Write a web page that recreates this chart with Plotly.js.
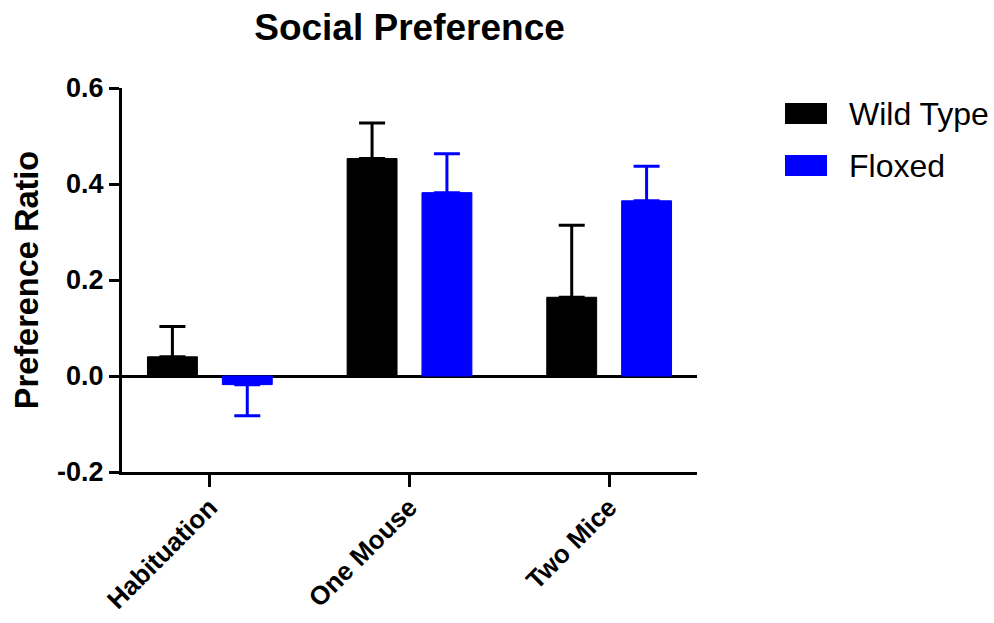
<!DOCTYPE html>
<html>
<head>
<meta charset="utf-8">
<script src="https://cdn.plot.ly/plotly-3.0.1.min.js"></script>
<style>
  html, body { margin: 0; padding: 0; background: #fff; }
  #chart { width: 994px; height: 623px; }
</style>
</head>
<body>
<div id="chart"></div>
<script>
// Social preference test: preference ratio per phase, by genotype
const categories = ["Habituation", "One Mouse", "Two Mice"];

const wildTypeMean = [0.040, 0.453, 0.164];
const wildTypeSem  = [0.063, 0.074, 0.150];

const floxedMean = [-0.018, 0.382, 0.365];
const floxedSem  = [0.065, 0.081, 0.072];

const seriesNames = ["Wild Type", "Floxed"];
const seriesColors = ["#000000", "#0000ff"];

const FONT = "Arial, 'Liberation Sans', Helvetica, sans-serif";

// error bars only on the side away from zero
function upper(means, sems) { return means.map((m, i) => (m >= 0 ? sems[i] : 0)); }
function lower(means, sems) { return means.map((m, i) => (m < 0 ? sems[i] : 0)); }

function barTrace(name, means, sems, color) {
  return {
    type: "bar",
    name: name,
    x: categories,
    y: means,
    marker: { color: color, line: { color: color, width: 1 } },
    error_y: {
      type: "data",
      symmetric: false,
      array: upper(means, sems),
      arrayminus: lower(means, sems),
      color: color,
      thickness: 3,
      width: 13
    },
    showlegend: false,
    hoverinfo: "x+y"
  };
}

const data = [
  barTrace(seriesNames[0], wildTypeMean, wildTypeSem, seriesColors[0]),
  barTrace(seriesNames[1], floxedMean, floxedSem, seriesColors[1])
];

// legend drawn as swatches + labels on the right
const legendY = [113.5, 165.5];
const shapes = [];
const annotations = [];
seriesNames.forEach((name, i) => {
  shapes.push({
    type: "rect", xref: "paper", yref: "paper",
    x0: (785 - 122) / 575, x1: (827 - 122) / 575,
    y0: (472 - (legendY[i] + 10.5)) / 384, y1: (472 - (legendY[i] - 10.5)) / 384,
    fillcolor: seriesColors[i], line: { width: 0 }
  });
  annotations.push({
    xref: "paper", yref: "paper",
    x: (847 - 122) / 575, y: (472 - legendY[i]) / 384,
    xanchor: "left", yanchor: "middle",
    text: name, showarrow: false,
    font: { family: FONT, size: 32, color: "#000" }
  });
});

const layout = {
  width: 994,
  height: 623,
  margin: { l: 122, r: 297, t: 88, b: 151, pad: 0 },
  paper_bgcolor: "#ffffff",
  plot_bgcolor: "#ffffff",
  barmode: "group",
  bargap: 0.25,
  bargroupgap: 1 / 3,
  font: { family: FONT, color: "#000" },
  title: {
    text: "<b>Social Preference</b>",
    font: { family: FONT, size: 37, color: "#000" },
    x: 409.5 / 994, xanchor: "center",
    y: 1 - 27 / 623, yanchor: "middle"
  },
  xaxis: {
    type: "category",
    range: [-0.44, 2.44],
    showline: true, linecolor: "#000", linewidth: 3,
    ticks: "outside", ticklen: 12, tickwidth: 3, tickcolor: "#000",
    tickangle: -45,
    ticklabelstandoff: -5,
    tickfont: { family: FONT, size: 26, color: "#000", weight: "bold" },
    showgrid: false, zeroline: false, fixedrange: true
  },
  yaxis: {
    range: [-0.2, 0.6],
    tickvals: [-0.2, 0, 0.2, 0.4, 0.6],
    ticktext: ["-0.2", "0.0", "0.2", "0.4", "0.6"],
    showline: true, linecolor: "#000", linewidth: 3,
    ticks: "outside", ticklen: 10, tickwidth: 3, tickcolor: "#000",
    tickfont: { family: FONT, size: 27, color: "#000", weight: "bold" },
    showgrid: false,
    zeroline: true, zerolinecolor: "#000", zerolinewidth: 3,
    title: {
      text: "<b>Preference Ratio</b>",
      font: { family: FONT, size: 32.5, color: "#000" },
      standoff: 9
    },
    fixedrange: true
  },
  shapes: shapes,
  annotations: annotations,
  showlegend: false
};

Plotly.newPlot("chart", data, layout, { displayModeBar: false, staticPlot: true });
</script>
</body>
</html>
